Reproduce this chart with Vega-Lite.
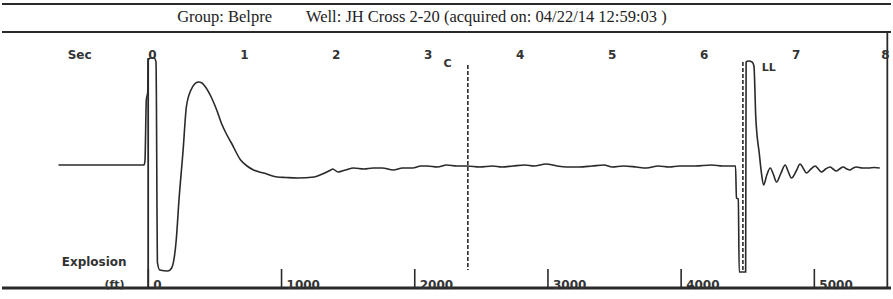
{
  "$schema": "https://vega.github.io/schema/vega-lite/v6.json",
  "width": 893,
  "height": 299,
  "padding": 0,
  "autosize": {"type": "fit", "contains": "padding"},
  "background": "white",
  "config": {"view": {"stroke": null}},
  "datasets": {
    "trace": [
      {"t": -1.02, "a": 0.01}, {"t": -0.09, "a": 0.01}, {"t": -0.08, "a": 0.05}, {"t": -0.065, "a": 0.66},
      {"t": -0.05, "a": 0.74}, {"t": -0.045, "a": 1.06}, {"t": -0.02, "a": 1.08}, {"t": 0.02, "a": 1.08},
      {"t": 0.04, "a": 1.04}, {"t": 0.045, "a": 0.6}, {"t": 0.05, "a": -0.3}, {"t": 0.055, "a": -0.96},
      {"t": 0.08, "a": -1.04}, {"t": 0.17, "a": -1.05}, {"t": 0.21, "a": -1.02}, {"t": 0.26, "a": -0.74},
      {"t": 0.29, "a": -0.34}, {"t": 0.335, "a": 0.16}, {"t": 0.37, "a": 0.59}, {"t": 0.42, "a": 0.76},
      {"t": 0.46, "a": 0.82}, {"t": 0.5, "a": 0.84}, {"t": 0.54, "a": 0.83}, {"t": 0.57, "a": 0.8},
      {"t": 0.64, "a": 0.69}, {"t": 0.7, "a": 0.56}, {"t": 0.75, "a": 0.43}, {"t": 0.8, "a": 0.33},
      {"t": 0.86, "a": 0.23}, {"t": 0.96, "a": 0.06}, {"t": 1.03, "a": 0.0}, {"t": 1.1, "a": -0.04},
      {"t": 1.21, "a": -0.07}, {"t": 1.36, "a": -0.11}, {"t": 1.45, "a": -0.115}, {"t": 1.58, "a": -0.12},
      {"t": 1.76, "a": -0.11}, {"t": 1.85, "a": -0.08}, {"t": 1.94, "a": -0.04}, {"t": 1.96, "a": -0.03},
      {"t": 2.02, "a": -0.06}, {"t": 2.1, "a": -0.04}, {"t": 2.19, "a": -0.02}, {"t": 2.3, "a": -0.03},
      {"t": 2.4, "a": -0.02}, {"t": 2.5, "a": -0.02}, {"t": 2.62, "a": -0.04}, {"t": 2.72, "a": -0.02},
      {"t": 2.83, "a": -0.02}, {"t": 2.92, "a": 0.0}, {"t": 2.99, "a": 0.0}, {"t": 3.1, "a": -0.01},
      {"t": 3.2, "a": 0.01}, {"t": 3.31, "a": 0.0}, {"t": 3.42, "a": 0.0}, {"t": 3.56, "a": -0.01},
      {"t": 3.7, "a": 0.0}, {"t": 3.8, "a": -0.01}, {"t": 3.92, "a": 0.0}, {"t": 4.05, "a": 0.01},
      {"t": 4.15, "a": 0.0}, {"t": 4.28, "a": 0.02}, {"t": 4.4, "a": 0.0}, {"t": 4.5, "a": -0.01},
      {"t": 4.64, "a": -0.01}, {"t": 4.78, "a": 0.0}, {"t": 4.91, "a": 0.01}, {"t": 5.0, "a": -0.01},
      {"t": 5.12, "a": 0.0}, {"t": 5.26, "a": -0.01}, {"t": 5.37, "a": -0.02}, {"t": 5.5, "a": 0.0},
      {"t": 5.62, "a": -0.01}, {"t": 5.73, "a": 0.0}, {"t": 5.9, "a": 0.0}, {"t": 6.08, "a": 0.01},
      {"t": 6.2, "a": 0.0}, {"t": 6.34, "a": 0.0}, {"t": 6.35, "a": -0.32}, {"t": 6.37, "a": -0.33},
      {"t": 6.38, "a": -1.06}, {"t": 6.42, "a": -1.06}, {"t": 6.45, "a": -1.06}, {"t": 6.455, "a": 1.04},
      {"t": 6.48, "a": 1.05}, {"t": 6.52, "a": 1.04}, {"t": 6.54, "a": 1.0}, {"t": 6.56, "a": 0.49},
      {"t": 6.6, "a": 0.11}, {"t": 6.62, "a": -0.06}, {"t": 6.645, "a": -0.19}, {"t": 6.68, "a": -0.09},
      {"t": 6.717, "a": -0.02}, {"t": 6.75, "a": -0.08}, {"t": 6.786, "a": -0.16}, {"t": 6.83, "a": -0.08},
      {"t": 6.88, "a": 0.01}, {"t": 6.91, "a": -0.05}, {"t": 6.948, "a": -0.12}, {"t": 7.0, "a": -0.05},
      {"t": 7.042, "a": 0.02}, {"t": 7.08, "a": -0.03}, {"t": 7.11, "a": -0.07}, {"t": 7.16, "a": -0.03},
      {"t": 7.205, "a": 0.0}, {"t": 7.24, "a": -0.03}, {"t": 7.273, "a": -0.06}, {"t": 7.32, "a": -0.03},
      {"t": 7.367, "a": -0.01}, {"t": 7.4, "a": -0.03}, {"t": 7.435, "a": -0.05}, {"t": 7.47, "a": -0.03},
      {"t": 7.511, "a": -0.01}, {"t": 7.55, "a": -0.03}, {"t": 7.583, "a": -0.04}, {"t": 7.62, "a": -0.02},
      {"t": 7.652, "a": -0.01}, {"t": 7.72, "a": -0.02}, {"t": 7.782, "a": -0.02}, {"t": 7.85, "a": -0.015},
      {"t": 7.908, "a": -0.02}
    ],
    "hlinesThin": [{"a": 1.62}, {"a": 1.34}],
    "hlinesThick": [{"a": -1.22}],
    "vlines": [{"t": 7.99, "a0": 1.34, "a1": -1.22}, {"t": -0.045, "a0": 1.08, "a1": -1.22}],
    "dashed": [{"t": 3.43, "a0": 1.01, "a1": -1.04}, {"t": 6.42, "a0": 1.04, "a1": -1.06}],
    "depth": [
      {"ft": 0, "label": "0"}, {"ft": 1000, "label": "1000"}, {"ft": 2000, "label": "2000"},
      {"ft": 3000, "label": "3000"}, {"ft": 4000, "label": "4000"}, {"ft": 5000, "label": "5000"}
    ],
    "secs": [
      {"t": -0.79, "label": "Sec"}, {"t": 0, "label": "0"}, {"t": 1, "label": "1"}, {"t": 2, "label": "2"},
      {"t": 3, "label": "3"}, {"t": 4, "label": "4"}, {"t": 5, "label": "5"}, {"t": 6, "label": "6"},
      {"t": 7, "label": "7"}, {"t": 7.97, "label": "8"}
    ],
    "marks": [
      {"t": 3.21, "a": 1.02, "label": "C"},
      {"t": 6.7, "a": 0.98, "label": "LL"},
      {"t": -0.41, "a": -1.19, "label": "(ft)"}
    ],
    "explosion": [{"t": -0.985, "a": -0.96, "label": "Explosion"}],
    "title": [
      {"t": 0.27, "a": 1.49, "label": "Group: Belpre"},
      {"t": 1.67, "a": 1.49, "label": "Well: JH Cross 2-20 (acquired on: 04/22/14 12:59:03 )"}
    ]
  },
  "resolve": {"scale": {"x": "independent"}},
  "layer": [
    {
      "data": {"name": "hlinesThin"},
      "mark": {"type": "rule", "stroke": "#2a2a2a", "strokeWidth": 2},
      "encoding": {"y": {"field": "a", "type": "quantitative", "scale": {"domain": [-1.33, 1.66], "nice": false, "zero": false}, "axis": null}}
    },
    {
      "data": {"name": "hlinesThick"},
      "mark": {"type": "rule", "stroke": "#2a2a2a", "strokeWidth": 3},
      "encoding": {"y": {"field": "a", "type": "quantitative", "axis": null}}
    },
    {
      "data": {"name": "vlines"},
      "mark": {"type": "rule", "stroke": "#2a2a2a", "strokeWidth": 1.8},
      "encoding": {
        "x": {"field": "t", "type": "quantitative", "scale": {"domain": [-1.634, 8.03], "nice": false, "zero": false}, "axis": null},
        "y": {"field": "a0", "type": "quantitative", "axis": null},
        "y2": {"field": "a1"}
      }
    },
    {
      "data": {"name": "dashed"},
      "mark": {"type": "rule", "stroke": "#2a2a2a", "strokeWidth": 1.6, "strokeDash": [4, 2]},
      "encoding": {
        "x": {"field": "t", "type": "quantitative", "scale": {"domain": [-1.634, 8.03], "nice": false, "zero": false}, "axis": null},
        "y": {"field": "a0", "type": "quantitative", "axis": null},
        "y2": {"field": "a1"}
      }
    },
    {
      "data": {"name": "trace"},
      "mark": {"type": "line", "stroke": "#2a2a2a", "strokeWidth": 1.6, "clip": true, "interpolate": "monotone"},
      "encoding": {
        "x": {"field": "t", "type": "quantitative", "scale": {"domain": [-1.634, 8.03], "nice": false, "zero": false}, "axis": null},
        "y": {"field": "a", "type": "quantitative", "axis": null}
      }
    },
    {
      "data": {"name": "depth"},
      "mark": {"type": "rule", "stroke": "#2a2a2a", "strokeWidth": 1.6},
      "encoding": {
        "x": {"field": "ft", "type": "quantitative", "scale": {"domain": [-1098.7, 5575.5], "nice": false, "zero": false}, "axis": null},
        "y": {"datum": -1.03, "type": "quantitative", "axis": null},
        "y2": {"datum": -1.22}
      }
    },
    {
      "data": {"name": "depth"},
      "mark": {"type": "text", "align": "left", "baseline": "middle", "dx": 5, "font": "DejaVu Sans", "fontWeight": "bold", "fontSize": 12, "fill": "#333"},
      "encoding": {
        "x": {"field": "ft", "type": "quantitative", "scale": {"domain": [-1098.7, 5575.5], "nice": false, "zero": false}, "axis": null},
        "y": {"datum": -1.19, "type": "quantitative", "axis": null},
        "text": {"field": "label"}
      }
    },
    {
      "data": {"name": "secs"},
      "mark": {"type": "text", "align": "center", "baseline": "middle", "font": "DejaVu Sans", "fontWeight": "bold", "fontSize": 12, "fill": "#333"},
      "encoding": {
        "x": {"field": "t", "type": "quantitative", "scale": {"domain": [-1.634, 8.03], "nice": false, "zero": false}, "axis": null},
        "y": {"datum": 1.11, "type": "quantitative", "axis": null},
        "text": {"field": "label"}
      }
    },
    {
      "data": {"name": "marks"},
      "mark": {"type": "text", "align": "center", "baseline": "middle", "font": "DejaVu Sans", "fontWeight": "bold", "fontSize": 11, "fill": "#333"},
      "encoding": {
        "x": {"field": "t", "type": "quantitative", "scale": {"domain": [-1.634, 8.03], "nice": false, "zero": false}, "axis": null},
        "y": {"field": "a", "type": "quantitative", "axis": null},
        "text": {"field": "label"}
      }
    },
    {
      "data": {"name": "explosion"},
      "mark": {"type": "text", "align": "left", "baseline": "middle", "font": "DejaVu Sans", "fontWeight": "bold", "fontSize": 12, "fill": "#333"},
      "encoding": {
        "x": {"field": "t", "type": "quantitative", "scale": {"domain": [-1.634, 8.03], "nice": false, "zero": false}, "axis": null},
        "y": {"field": "a", "type": "quantitative", "axis": null},
        "text": {"field": "label"}
      }
    },
    {
      "data": {"name": "title"},
      "mark": {"type": "text", "align": "left", "baseline": "middle", "font": "Liberation Serif", "fontSize": 16.5, "fill": "#222"},
      "encoding": {
        "x": {"field": "t", "type": "quantitative", "scale": {"domain": [-1.634, 8.03], "nice": false, "zero": false}, "axis": null},
        "y": {"field": "a", "type": "quantitative", "axis": null},
        "text": {"field": "label"}
      }
    }
  ]
}
